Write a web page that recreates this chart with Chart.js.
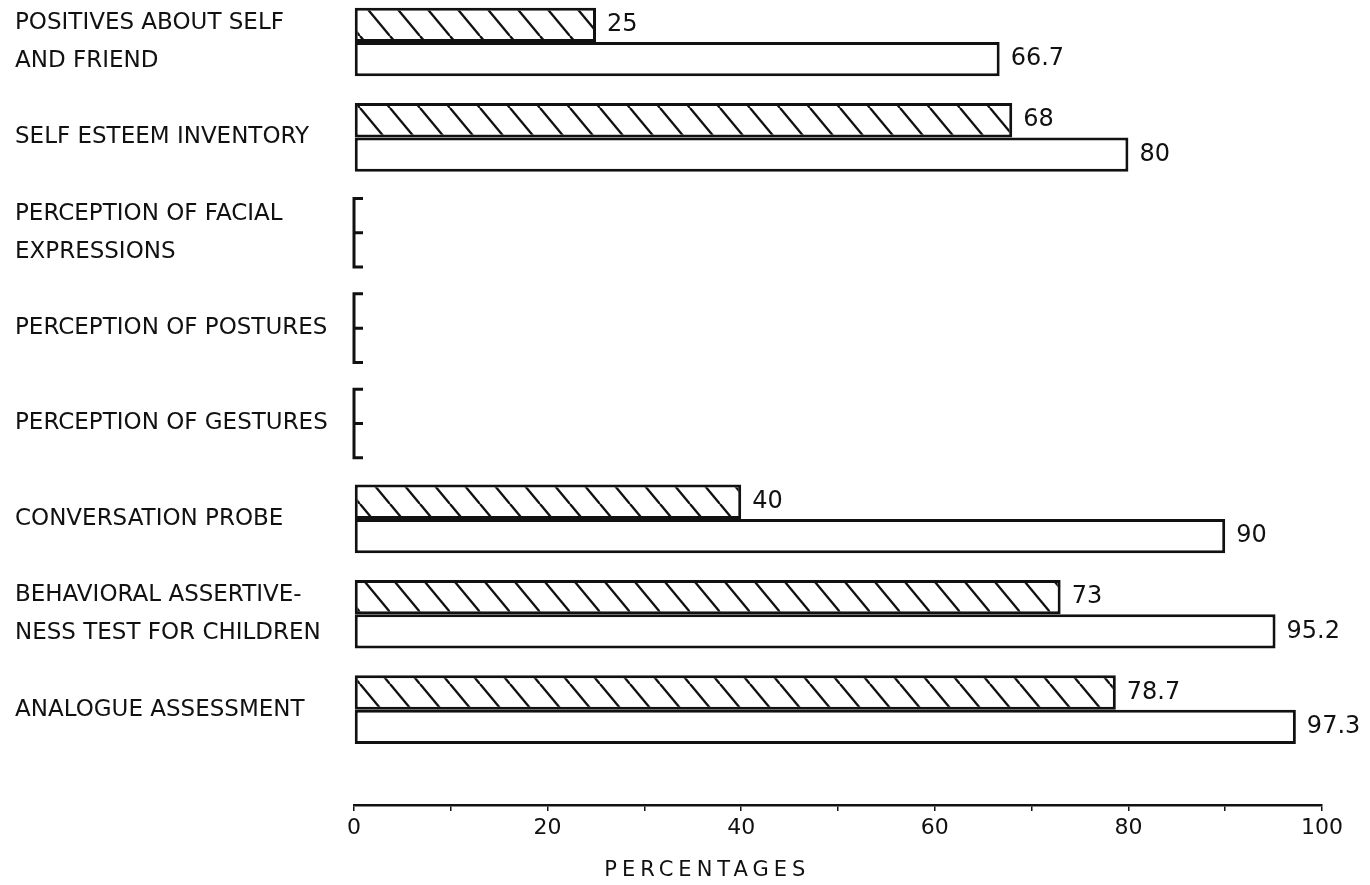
<!DOCTYPE html>
<html>
<head>
<meta charset="utf-8">
<script src="https://cdn.jsdelivr.net/npm/chart.js@4.4.1/dist/chart.umd.min.js"></script>
<style>
  html, body { margin: 0; padding: 0; background: #fff; }
  #wrap { width: 1370px; height: 885px; }
</style>
</head>
<body>
<div id="wrap"><canvas id="barChart" width="1370" height="885"></canvas></div>
<script>
const categories = [
    ["POSITIVES ABOUT SELF", "AND FRIEND"],
    "SELF ESTEEM INVENTORY",
    ["PERCEPTION OF FACIAL", "EXPRESSIONS"],
    "PERCEPTION OF POSTURES",
    "PERCEPTION OF GESTURES",
    "CONVERSATION PROBE",
    ["BEHAVIORAL ASSERTIVE-", "NESS TEST FOR CHILDREN"],
    "ANALOGUE ASSESSMENT"
];
const hatchedValues = [25, 68, null, null, null, 40, 73, 78.7];
const openValues = [66.7, 80, null, null, null, 90, 95.2, 97.3];
const xTickLabels = [0, 20, 40, 60, 80, 100];
const xTitle = "PERCENTAGES";

const ink = "#111";
const groupPct = 0.72;

// diagonal hatch like the printed figure
function makeHatch() {
    const c = document.createElement("canvas");
    c.width = 30;
    c.height = 36;
    const g = c.getContext("2d");
    g.fillStyle = "#fff";
    g.fillRect(0, 0, 30, 36);
    g.strokeStyle = ink;
    g.lineWidth = 2.4;
    [-30, 0, 30].forEach((dx) => {
        g.beginPath();
        g.moveTo(dx, 0);
        g.lineTo(dx + 30, 36);
        g.stroke();
    });
    return g.createPattern(c, "repeat");
}

function toPoints(values) {
    const pts = [];
    values.forEach((v, i) => {
        if (v !== null) pts.push({ x: v, y: i });
    });
    return pts;
}

// value labels at the bar ends, brackets for empty rows, axis title
const extras = {
    id: "extras",
    afterDatasetsDraw(chart) {
        const ctx = chart.ctx;
        const xs = chart.scales.x;
        const ys = chart.scales.y;
        ctx.save();
        ctx.fillStyle = ink;
        ctx.font = "24px 'DejaVu Sans'";
        ctx.textAlign = "left";
        ctx.textBaseline = "middle";
        chart.data.datasets.forEach((ds, di) => {
            const meta = chart.getDatasetMeta(di);
            meta.data.forEach((bar, j) => {
                ctx.fillText(String(ds.data[j].x), bar.x + 11, bar.y);
            });
        });

        const x0 = xs.getPixelForValue(0);
        const half = (ys.getPixelForValue(1) - ys.getPixelForValue(0)) * groupPct / 2;
        ctx.strokeStyle = ink;
        ctx.lineWidth = 3;
        categories.forEach((c, i) => {
            if (hatchedValues[i] !== null || openValues[i] !== null) return;
            const yc = ys.getPixelForValue(i);
            ctx.beginPath();
            ctx.moveTo(x0 + 9, yc - half);
            ctx.lineTo(x0, yc - half);
            ctx.lineTo(x0, yc + half);
            ctx.lineTo(x0 + 9, yc + half);
            ctx.moveTo(x0, yc);
            ctx.lineTo(x0 + 9, yc);
            ctx.stroke();
        });

        ctx.font = "21px 'DejaVu Sans'";
        ctx.letterSpacing = "5px";
        ctx.textAlign = "center";
        ctx.fillText(xTitle, xs.getPixelForValue(36.5), xs.top + 66);
        ctx.restore();
    }
};

const ctx = document.getElementById("barChart").getContext("2d");
const barChart = new Chart(ctx, {
    type: "bar",
    data: {
        datasets: [
            { label: "hatched", data: toPoints(hatchedValues), backgroundColor: makeHatch() },
            { label: "open", data: toPoints(openValues), backgroundColor: "#fff" }
        ]
    },
    options: {
        indexAxis: "y",
        responsive: false,
        animation: false,
        layout: { padding: { top: 42, left: 15, right: 48, bottom: 0 } },
        datasets: {
            bar: {
                clip: false,
                borderColor: ink,
                borderWidth: 3,
                borderSkipped: false,
                categoryPercentage: groupPct,
                barPercentage: 1
            }
        },
        plugins: {
            legend: { display: false },
            tooltip: { enabled: false }
        },
        scales: {
            x: {
                type: "linear",
                min: 0,
                max: 100,
                afterFit: (s) => { s.height = 80; },
                border: { display: true, color: ink, width: 2.5 },
                grid: { drawOnChartArea: false, drawTicks: true, tickLength: 6, color: ink, lineWidth: 1.5 },
                ticks: {
                    stepSize: 10,
                    autoSkip: false,
                    maxRotation: 0,
                    padding: 4,
                    color: ink,
                    font: { family: "'DejaVu Sans'", size: 22 },
                    callback: (v) => (xTickLabels.includes(v) ? String(v) : "")
                }
            },
            y: {
                type: "linear",
                reverse: true,
                offset: false,
                min: 0,
                max: categories.length,
                afterFit: (s) => { s.width = 339; },
                border: { display: false },
                grid: { display: false, drawTicks: false },
                ticks: {
                    stepSize: 1,
                    autoSkip: false,
                    crossAlign: "far",
                    color: ink,
                    font: { family: "'DejaVu Sans'", size: 23, lineHeight: "38px" },
                    callback: (v) => (categories[v] !== undefined ? categories[v] : "")
                }
            }
        }
    },
    plugins: [extras]
});
</script>
</body>
</html>
